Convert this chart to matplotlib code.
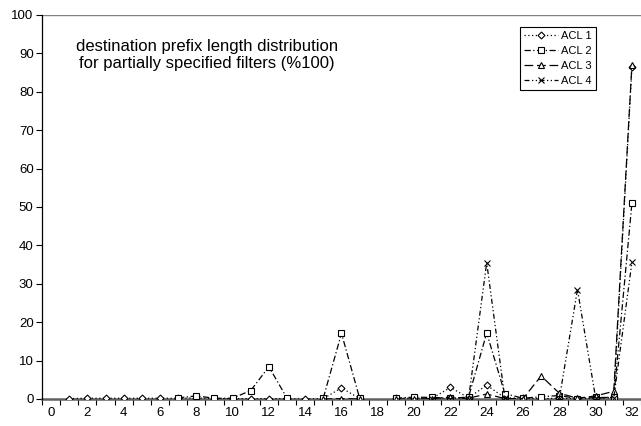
import numpy as np
import matplotlib
matplotlib.use("Agg")
import matplotlib.pyplot as plt

nan = np.nan
prefix_len = list(range(33))

# values (%); nan = no point drawn
acl1 = [nan, 0.1, 0.2, 0.2, 0.2, 0.2, 0.2, 0.2, 0.3, 0.1, 0.1, 0.1, 0.1, 0.1, 0.0, 0.1,
        2.9, 0.1, nan, 0.2, 0.2, 0.2, 3.0, 0.3, 3.6, 0.3, 0.2, 0.1, 0.2, 0.1, 0.2, 0.5, 86.5]
acl2 = [nan, nan, nan, nan, nan, nan, nan, 0.3, 0.8, 0.2, 0.2, 2.2, 8.4, 0.2, nan, 0.3,
        17.1, 0.2, nan, 0.2, 0.5, 0.4, 0.2, 0.5, 17.2, 1.4, 0.2, 0.6, 0.9, 0.1, 0.4, 0.4, 51.0]
acl3 = [nan, nan, nan, nan, nan, nan, nan, nan, nan, nan, nan, nan, nan, nan, nan, 0.0,
        0.1, 0.0, nan, 0.0, 0.0, 0.1, 0.5, 0.2, 1.3, 0.1, 0.1, 6.0, 1.5, 0.2, 0.8, 2.0, 87.0]
acl4 = [nan, nan, nan, nan, nan, nan, nan, nan, nan, nan, nan, nan, nan, nan, nan, nan,
        nan, nan, nan, nan, nan, 0.0, 0.0, 0.1, 35.5, 0.2, nan, nan, 0.1, 28.5, 0.3, 0.3, 35.6]

series = [
    ("ACL 1", acl1, "D", (0, (1, 2)), 3.5),
    ("ACL 2", acl2, "s", (0, (5, 2, 1, 2)), 4.5),
    ("ACL 3", acl3, "^", (0, (7, 3)), 5),
    ("ACL 4", acl4, "x", (0, (4, 2, 1, 2, 1, 2)), 5),
]

plt.rcParams['font.family'] = ['Liberation Sans', 'DejaVu Sans']

fig = plt.figure(figsize=(6.41, 4.26), dpi=100)
ax = fig.add_axes([0.0655, 0.0634, 0.9345, 0.9014])

ax.axhline(100, color='#808080', lw=1, zorder=1)

for name, vals, mk, ls, ms in series:
    ax.plot(prefix_len, vals, color='black', lw=0.9, linestyle=ls,
            marker=mk, markersize=ms, markerfacecolor='white',
            markeredgecolor='black', markeredgewidth=0.8, label=name, zorder=3)

ax.set_xlim(-0.5, 32.35)
ax.set_ylim(0, 100)

# category axis: tick marks between categories, labels on even values
ax.set_xticks(np.arange(-0.5, 32.6, 1.0))
ax.set_xticklabels([])
ax.set_xticks(range(0, 33, 2), minor=True)
ax.set_xticklabels([str(v) for v in range(0, 33, 2)], minor=True)
ax.tick_params(axis='x', which='major', direction='out', length=4, width=0.8, color='black')
ax.tick_params(axis='x', which='minor', length=0, labelsize=9.5, pad=6)
ax.set_yticks(range(0, 101, 10))
ax.tick_params(axis='y', direction='out', length=4, width=0.8, labelsize=9.5, pad=2)

for s in ('top', 'right'):
    ax.spines[s].set_visible(False)
ax.spines['left'].set_color('black')
ax.spines['left'].set_linewidth(0.9)
ax.spines['bottom'].set_color('#606060')
ax.spines['bottom'].set_linewidth(1.8)
ax.spines['bottom'].set_zorder(2)

ax.text(0.275, 0.895, "destination prefix length distribution\nfor partially specified filters (%100)",
        transform=ax.transAxes, ha='center', va='center', fontsize=12, linespacing=1.15)

leg = ax.legend(loc='upper left', bbox_to_anchor=(0.798, 0.97), fontsize=8,
                frameon=True, fancybox=False, edgecolor='black', framealpha=1,
                borderpad=0.4, labelspacing=0.45, handlelength=3.0, handletextpad=0.3,
                borderaxespad=0)
leg.get_frame().set_linewidth(0.8)

fig.savefig("out.png", dpi=100)
